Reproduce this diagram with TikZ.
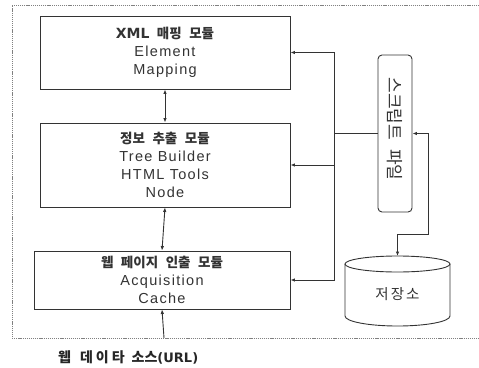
\documentclass[tikz,border=0pt]{standalone}
\usepackage{fontspec}
\setmainfont{Liberation Sans}[LetterSpace=9]
\newfontfamily\kr{Noto Sans CJK KR}
\newfontfamily\dvs{DejaVu Sans}
\usetikzlibrary{arrows.meta}
\newcommand\kws{\hspace{7.5pt}}
\newcommand\hd[1]{{\fontsize{13.5}{18}\selectfont\kr\bfseries #1}}
\tikzset{
  line/.style={draw=black!80,line width=0.9pt},
  modbox/.style={line,rectangle,inner sep=0pt,align=center,text=black!80,
     font=\fontsize{14.5}{18}\selectfont},
  arr/.style={line,-{Latex[length=4.5pt,width=3.5pt]}},
  darr/.style={line,{Latex[length=4.5pt,width=3.5pt]}-{Latex[length=4.5pt,width=3.5pt]}},
}
\begin{document}
\begin{tikzpicture}[x=1pt,y=-1pt]
\useasboundingbox (0,0) rectangle (479,367);
% dashed frame
\draw[gray,line width=0.8pt,dash pattern=on 1.2pt off 0.9pt] (479,5) -- (12,5) -- (12,338) -- (479,338);
% modules
\node[modbox,minimum width=250pt,minimum height=73pt] (b1) at (165,52.5)
  {\hd{{\fontsize{14}{18}\selectfont\dvs\bfseries XML}\kws 매핑\kws 모듈}\\Element\\Mapping};
\node[modbox,minimum width=250pt,minimum height=84pt] (b2) at (165,165)
  {\hd{정보\kws 추출\kws 모듈}\\Tree Builder\\HTML Tools\\Node};
\node[modbox,minimum width=256pt,minimum height=58pt] (b3) at (162,280)
  {\hd{웹\kws 페이지\kws 인출\kws 모듈}\\Acquisition\\Cache};
% script file
\node[line,rectangle,rounded corners=4pt,minimum width=34pt,minimum height=157pt,inner sep=0pt] (sc) at (395,133.5) {};
\node[rotate=-90,text=black!80,inner sep=0pt,font=\kr\fontsize{17}{19}\selectfont] (sct) at (395,129) {스크립트\hspace{9pt}파일};
% storage cylinder
\draw[line] (397.5,264) ellipse [x radius=52.5, y radius=8];
\draw[line] (345,264) -- (345,316) arc[start angle=180,end angle=0,x radius=52.5,y radius=10] -- (450,264);
\coordinate (dbtop) at (397.5,256);
\node[text=black!80,inner sep=0pt,font=\kr\fontsize{14.5}{16}\selectfont] (db) at (397.5,294.5) {저\hspace{2pt}장\hspace{2pt}소};
% connectors
\draw[darr] (b1.south) -- (b2.north);
\draw[darr] (b2.south) -- (b3.north);
\coordinate (j) at (334,133.5);
\draw[line] (sc.west) -- (j);
\draw[arr] (j) |- (b1.east);
\draw[arr] (j) |- (b2.east);
\draw[arr] (j) |- (b3.east);
\coordinate (r1) at (428,133.5);
\coordinate (r2) at (428,234);
\draw[darr] (sc.east) -- (r1) -- (r2) -| (dbtop);
% web source
\coordinate (src) at (164,338);
\draw[arr] (src) -- (b3.south);
\node[anchor=west,inner sep=0pt,text=black!85,font=\kr\bfseries\fontsize{14}{15}\selectfont] (lab) at (58,357.5)
  {웹\hspace{9pt}데\hspace{3pt}이\hspace{3pt}타\hspace{7pt}소스{\fontsize{13}{15}\selectfont\dvs\bfseries (URL)}};
\end{tikzpicture}
\end{document}
